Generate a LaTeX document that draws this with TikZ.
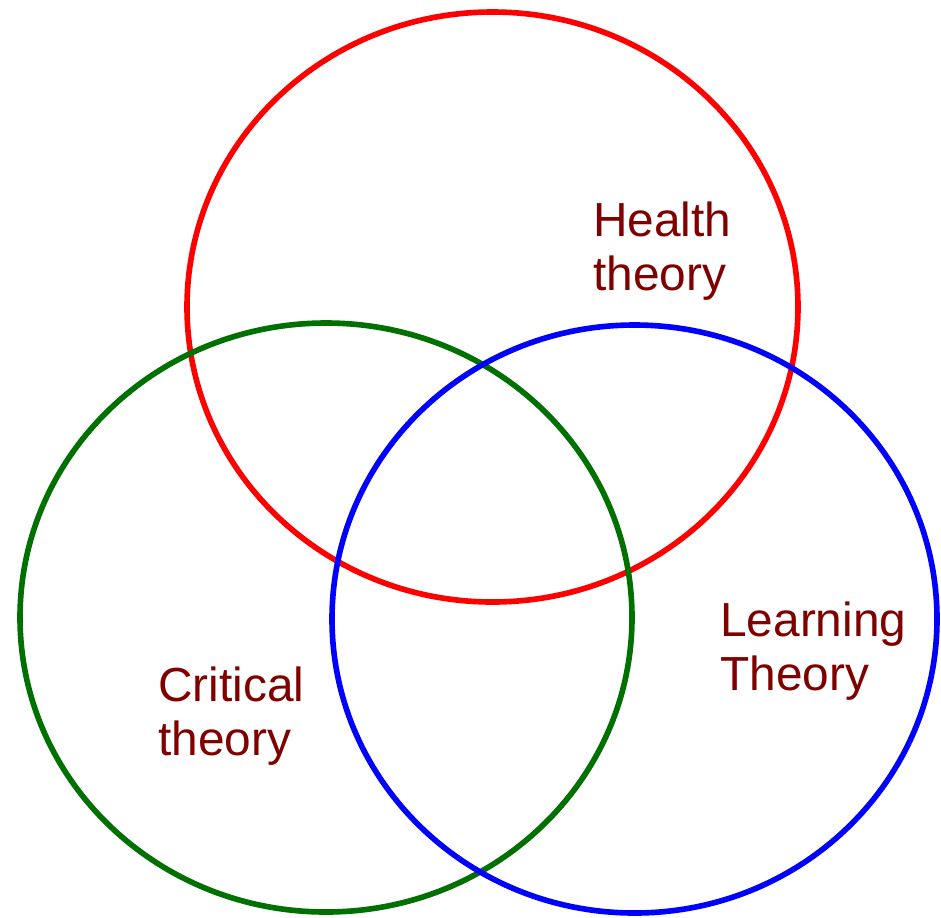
\documentclass[tikz,border=0pt]{standalone}
\usepackage{fontspec}
\setmainfont{Liberation Sans}
\definecolor{setgreen}{RGB}{0,112,0}
\definecolor{labelred}{RGB}{128,0,0}

\begin{document}
\begin{tikzpicture}[x=0.025cm,y=-0.025cm,
    set/.style={line width=4pt},
    setlabel/.style={text=labelred,align=left,inner sep=0pt,anchor=north west,
        font=\fontsize{34}{38.4}\selectfont}]
    \useasboundingbox (0,0) rectangle (941,917);
    % the three sets
    \coordinate (health) at (492.5,307);
    \coordinate (critical) at (326,617.5);
    \coordinate (learning) at (634.5,619);
    \draw[set,red] (health) ellipse (305.5 and 295);
    \draw[set,setgreen] (critical) ellipse (306 and 294.5);
    \draw[set,blue] (learning) ellipse (302.5 and 294);
    % labels
    \node[setlabel] (healthlabel) at (593,202) {Health\\theory};
    \node[setlabel] (learninglabel) at (720,602) {Learning\\Theory};
    \node[setlabel] (criticallabel) at (158,667) {Critical\\theory};
\end{tikzpicture}
\end{document}
